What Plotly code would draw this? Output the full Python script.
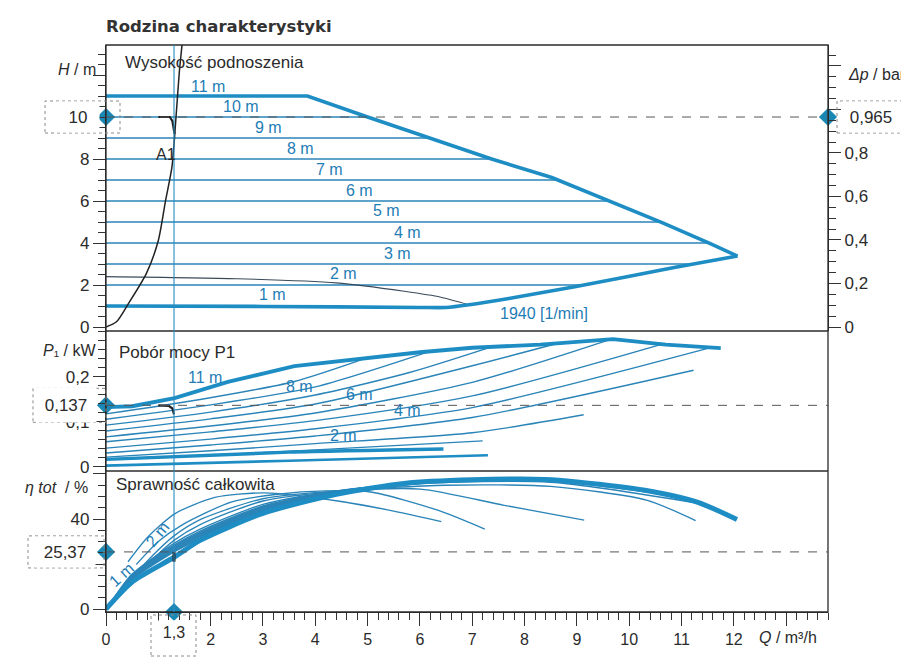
import plotly.graph_objects as go

# ------------------------------------------------------------------ data
# flow axis  Q / m3/h
Q_RANGE = [0, 13.8]
q_ticks = list(range(0, 14))
q_ticktext = ["0", "", "2", "3", "4", "5", "6", "7", "8", "9", "10", "11", "12", ""]

# ---- panel 1 : Wysokość podnoszenia  (H / m)  and  Δp / bar
H_RANGE = [-0.19, 13.43]
DP_PER_M = 0.0965
h_ticks = [0, 2, 4, 6, 8, 10, 12]
h_ticktext = ["0", "2", "4", "6", "8", "", ""]
dp_ticks = [0, 0.2, 0.4, 0.6, 0.8, 1.0, 1.2]
dp_ticktext = ["0", "0,2", "0,4", "0,6", "0,8", "", ""]

q_hmax = [0, 3.85, 5.0, 6.74, 7.37, 8.52, 9.68, 10.64, 11.55, 12.07]
h_hmax = [11.0, 11.0, 10.0, 8.53, 8.0, 7.12, 5.95, 4.96, 3.97, 3.38]
q_hmin = [0, 3.0, 6.0, 6.5, 6.94, 7.7, 8.96, 10.86, 12.07]
h_hmin = [1.0, 0.98, 0.93, 0.93, 1.06, 1.36, 1.92, 2.83, 3.38]
h_levels = [10, 9, 8, 7, 6, 5, 4, 3, 2]
q_level_end = [5.0, 6.19, 7.37, 8.64, 9.63, 10.6, 11.52, 11.23, 9.13]
q_hthin = [0, 2.5, 4.4, 5.7, 6.4, 6.94]
h_hthin = [2.4, 2.3, 2.1, 1.7, 1.42, 1.06]
q_sys = [0, 0.2, 0.42, 0.77, 1.0, 1.14, 1.26, 1.33, 1.40, 1.46]
h_sys = [0, 0.25, 1.08, 2.54, 4.12, 6.04, 7.61, 9.71, 12.1, 13.6]

top_lbl_text = ["11 m", "10 m", "9 m", "8 m", "7 m", "6 m", "5 m", "4 m", "3 m", "2 m", "1 m", "1940 [1/min]"]
top_lbl_q = [1.94, 2.58, 3.10, 3.72, 4.28, 4.85, 5.36, 5.76, 5.58, 4.54, 3.18, 8.38]
top_lbl_h = [11.45, 10.5, 9.5, 8.49, 7.52, 6.5, 5.54, 4.51, 3.5, 2.53, 1.54, 0.62]

# ---- panel 2 : Pobór mocy P1  (P1 / kW)
P_RANGE = [-0.0089, 0.3022]
p_ticks = [0, 0.1, 0.2]
p_ticktext = ["0", "0,1", "0,2"]
q_pmax = [0, 0.5, 1.31, 2.33, 3.6, 5.0, 6.0, 7.0, 8.3, 9.69, 10.7, 11.75]
p_pmax = [0.133, 0.135, 0.153, 0.189, 0.224, 0.243, 0.255, 0.265, 0.272, 0.284, 0.272, 0.264]
p_lines_q = [
    [0, 1.8, 3.6, 5.0],
    [0, 2, 4, 6.19],
    [0, 2, 4, 5.8, 7.37],
    [0, 2, 4, 7, 8.64],
    [0, 2, 4, 7, 9.63],
    [0, 2, 4, 7, 10.6],
    [0, 2, 4, 7, 11.52],
    [0, 2, 4, 7, 11.23],
    [0, 2, 4, 7, 9.13],
    [0, 2, 4, 7.2],
]
p_lines_p = [
    [0.118, 0.150, 0.190, 0.243],
    [0.106, 0.138, 0.178, 0.257],
    [0.093, 0.122, 0.160, 0.210, 0.267],
    [0.080, 0.107, 0.140, 0.225, 0.275],
    [0.067, 0.091, 0.120, 0.188, 0.283],
    [0.056, 0.078, 0.103, 0.158, 0.272],
    [0.042, 0.062, 0.085, 0.132, 0.264],
    [0.031, 0.049, 0.069, 0.110, 0.215],
    [0.022, 0.036, 0.052, 0.076, 0.116],
    [0.017, 0.026, 0.038, 0.058],
]
q_pb1 = [0, 3.5, 6.45]
p_pb1 = [0.017, 0.033, 0.040]
q_pb2 = [0, 3.5, 7.3]
p_pb2 = [0.003, 0.014, 0.026]
mid_lbl_text = ["11 m", "8 m", "6 m", "4 m", "2 m"]
mid_lbl_q = [1.89, 3.69, 4.85, 5.76, 4.53]
mid_lbl_p = [0.199, 0.178, 0.161, 0.126, 0.069]

# ---- panel 3 : Sprawność całkowita  (η tot / %)
ETA_RANGE = [-1.33, 61.33]
eta_ticks = [0, 20, 40, 60]
eta_ticktext = ["0", "", "40", ""]
q_emax = [0, 0.5, 1.3, 1.8, 3.0, 4.4, 5.7, 7.0, 8.4, 9.0, 10.3, 11.3, 12.06]
e_emax = [0, 12, 23, 30.5, 42.5, 51, 55.8, 57.4, 57.6, 56.5, 52.8, 47.5, 39.8]
eta_lines_q = [
    [0, 0.5, 1.3, 1.8, 3.0, 4.4, 5.0],
    [0, 0.5, 1.3, 1.8, 3.0, 4.4, 6.19],
    [0, 0.5, 1.3, 1.8, 3.0, 4.4, 6.0, 7.37],
    [0, 0.5, 1.3, 1.8, 3.0, 4.4, 6.0, 8.64],
    [0.05, 0.5, 1.3, 1.8, 3.0, 4.4, 6.0, 8.0, 9.63],
    [0.1, 0.5, 1.3, 1.8, 3.0, 4.4, 6.0, 8.5, 10.6],
    [0.2, 0.6, 1.3, 1.8, 3.0, 4.4, 6.0, 8.5, 11.52],
    [0.35, 0.8, 1.3, 1.8, 3.0, 4.5, 6.5, 8.5, 10.33, 11.27],
    [0.5, 0.9, 1.3, 1.8, 3.0, 4.5, 6.01, 7.61, 9.14],
    [0.58, 1.0, 1.45, 2.39, 3.28, 4.2, 5.06, 6.34, 7.24],
    [0.42, 0.8, 1.32, 2.08, 3.03, 4.43, 5.5, 6.41],
]
eta_lines_e = [
    [0, 13, 25.4, 31.5, 43.6, 51.3, 53.5],
    [0, 13.5, 26, 32.2, 44, 51.5, 56.3],
    [0, 14, 26.6, 32.8, 44.5, 51.8, 56.2, 57.5],
    [0, 14.5, 27.2, 33.4, 45, 52, 56.2, 57.5],
    [1.5, 15, 27.8, 34, 45.4, 52.2, 56.2, 57.2, 54.8],
    [3, 15.5, 28.4, 34.6, 45.8, 52.3, 56, 56.8, 51.2],
    [5, 17, 29.2, 35.5, 46.5, 52.5, 55.8, 56.3, 46.2],
    [9, 20, 30.5, 37.5, 48, 52.5, 55, 54.5, 48.4, 39.3],
    [14, 24, 32.5, 39.7, 49, 52.5, 53.3, 46.1, 39.5],
    [19.8, 30, 37.3, 47.5, 51, 52.5, 52.0, 43.9, 35.5],
    [21, 32, 42.4, 49.6, 51.6, 48.0, 43.5, 38.8],
]
eta_line_width = [1.8, 1.8, 1.8, 1.8, 1.6, 1.5, 1.4, 1.3, 1.3, 1.3, 1.3]
bot_lbl_text = ["2 m", "1 m"]
bot_lbl_q = [0.98, 0.30]
bot_lbl_e = [33.3, 15.4]
bot_lbl_angle = [-50, -42]

# ---- operating point A1
q_op, h_op, dp_op, p_op, eta_op = 1.3, 10.0, 0.965, 0.137, 25.37
op_text_q, op_text_h, op_text_dp, op_text_p, op_text_eta = "1,3", "10", "0,965", "0,137", "25,37"
hook_top_q = [1.0, 1.22, 1.27, 1.31]
hook_top_h = [10.0, 10.0, 9.8, 9.2]
hook_mid_q = [1.0, 1.2, 1.27, 1.3]
hook_mid_p = [0.137, 0.136, 0.130, 0.117]
hook_bot_q = [1.3, 1.3]
hook_bot_e = [25.4, 21.0]

# ------------------------------------------------------------------ layout helpers
W, H = 909, 657
L, R, T, B = 98, 820, 37, 604
PW, PH = R - L, B - T


def px(xp):
    return (xp - L) / PW


def py(yp):
    return (B - yp) / PH


D0 = py(463)   # bottom / middle divider
D1 = py(323)   # middle / top divider

BLUE = "#1d8dc4"
BLUE_THIN = "#2a84b8"
TXT_BLUE = "#1f7db5"
DARK = "#2b2b2b"
SANS = "Liberation Sans, Arial, Helvetica, sans-serif"

fig = go.Figure()


def line(x, y, ax, color, width, shape="linear"):
    ln = dict(color=color, width=width, shape=shape)
    if shape == "spline":
        ln["smoothing"] = 0.7
    fig.add_trace(go.Scatter(x=x, y=y, xaxis="x", yaxis=ax, mode="lines",
                             line=ln, hoverinfo="skip"))


# ---- panel 1
for hl, qe in zip(h_levels, q_level_end):
    line([0, qe], [hl, hl], "y", BLUE_THIN, 1.4)
line(q_hthin, h_hthin, "y", "#3b4a5a", 1.1, "spline")
line(q_hmax, h_hmax, "y", BLUE, 3.6)
line(q_hmin, h_hmin, "y", BLUE, 3.6, "spline")
line(q_sys, h_sys, "y", "#222222", 1.5, "spline")
line(hook_top_q, hook_top_h, "y", "#222222", 2.2)

# ---- panel 2
for qs, ps in zip(p_lines_q, p_lines_p):
    line(qs, ps, "y2", BLUE_THIN, 1.4, "spline")
line(q_pb1, p_pb1, "y2", BLUE, 3.4, "spline")
line(q_pb2, p_pb2, "y2", BLUE, 2.6, "spline")
line(q_pmax, p_pmax, "y2", BLUE, 3.8)
line(hook_mid_q, hook_mid_p, "y2", "#222222", 2.2)

# ---- panel 3
for qs, es, lw in zip(eta_lines_q, eta_lines_e, eta_line_width):
    line(qs, es, "y3", BLUE_THIN, lw, "spline")
line(q_emax, e_emax, "y3", BLUE, 5, "spline")
line(hook_bot_q, hook_bot_e, "y3", "#222222", 3)

# ---- operating point diamonds
dia = dict(symbol="diamond", size=14, color="#1b87b5")
for xs, ys, ax in [([0], [h_op], "y"), ([0], [p_op], "y2"), ([0], [eta_op], "y3"),
                   ([q_op], [ETA_RANGE[0]], "y3"), ([Q_RANGE[1]], [dp_op], "y4")]:
    fig.add_trace(go.Scatter(x=xs, y=ys, xaxis="x", yaxis=ax, mode="markers",
                             marker=dia, cliponaxis=False, hoverinfo="skip"))

# ------------------------------------------------------------------ shapes
shapes = [
    dict(type="rect", xref="paper", yref="paper", x0=0, x1=1, y0=0, y1=1,
         line=dict(color=DARK, width=1.3), layer="above"),
    dict(type="line", xref="paper", yref="paper", x0=0, x1=1, y0=D0, y1=D0,
         line=dict(color=DARK, width=1.3), layer="above"),
    dict(type="line", xref="paper", yref="paper", x0=0, x1=1, y0=D1, y1=D1,
         line=dict(color=DARK, width=1.3), layer="above"),
    dict(type="line", xref="paper", yref="y", x0=0, x1=1, y0=h_op, y1=h_op,
         line=dict(color="#555555", width=1, dash="dash"), layer="above"),
    dict(type="line", xref="paper", yref="y2", x0=0, x1=1, y0=p_op, y1=p_op,
         line=dict(color="#555555", width=1, dash="dash"), layer="above"),
    dict(type="line", xref="paper", yref="y3", x0=0, x1=1, y0=eta_op, y1=eta_op,
         line=dict(color="#555555", width=1, dash="dash"), layer="above"),
    dict(type="line", xref="x", yref="paper", x0=q_op, x1=q_op, y0=0, y1=1,
         line=dict(color="#2a8cc0", width=1.1), layer="above"),
]

box_line = dict(color="#8a8a8a", width=1, dash="dot")


def box_y(yref, yval, x0, x1, y0=-16, y1=16, xanchor=0):
    shapes.append(dict(type="rect", xref="paper", xsizemode="pixel", xanchor=xanchor,
                       x0=x0, x1=x1, yref=yref, ysizemode="pixel", yanchor=yval,
                       y0=y0, y1=y1, line=box_line, layer="above"))


box_y("y", h_op, -61, 14)
box_y("y4", dp_op, 9, 77, xanchor=1)
box_y("y2", p_op, -73, 0, -17, 17)
box_y("y3", eta_op, -78, -2)
shapes.append(dict(type="rect", xref="x", xsizemode="pixel", xanchor=q_op, x0=-23, x1=22,
                   yref="paper", ysizemode="pixel", yanchor=0, y0=-44, y1=-3,
                   line=box_line, layer="above"))

# ------------------------------------------------------------------ annotations
ann = []


def text_px(t, xp, yp, size=17, color=DARK, xanchor="left", family=SANS):
    ann.append(dict(text=t, xref="paper", yref="paper", x=px(xp), y=py(yp),
                    xanchor=xanchor, yanchor="middle", showarrow=False,
                    font=dict(size=size, color=color, family=family)))


text_px("<b>Rodzina charakterystyki</b>", 96, 19, size=16.5, color="#333333",
        family="DejaVu Sans, Verdana, sans-serif")
text_px("Wysokość podnoszenia", 115, 54, size=17)
text_px("Pobór mocy P1", 109, 344, size=17)
text_px("Sprawność całkowita", 106, 476, size=17)
text_px("<i>H</i> / m", 90, 61, size=16, xanchor="right")
text_px("<i>Δp</i> / bar", 838, 66, size=16)
text_px("<i>P</i>₁ / kW", 90, 342, size=16, xanchor="right")
text_px("<i>η tot</i>  / %", 82, 479, size=16, xanchor="right")
text_px("<i>Q</i> / m³/h", 749, 630, size=16)

# callout texts (white background inside the dotted boxes)
for t, xr, xv, yr, yv, xs, w, h in [
    (op_text_h, "paper", 0, "y", h_op, -28, 40, 28),
    (op_text_dp, "paper", 1, "y4", dp_op, 43, 56, 28),
    (op_text_p, "paper", 0, "y2", p_op, -40, 58, 32),
    (op_text_eta, "paper", 0, "y3", eta_op, -41, 58, 28),
]:
    ann.append(dict(text=t, xref=xr, x=xv, yref=yr, y=yv, xshift=xs, showarrow=False,
                    width=w, height=h, bgcolor="white", xanchor="center", yanchor="middle",
                    font=dict(size=17, color=DARK, family=SANS)))
ann.append(dict(text=op_text_q, xref="x", x=q_op, yref="paper", y=0, yshift=-20,
                showarrow=False, width=34, height=20, bgcolor="white",
                xanchor="center", yanchor="middle",
                font=dict(size=16, color=DARK, family=SANS)))

ann.append(dict(text="A1", xref="x", yref="y", x=1.15, y=8.2, showarrow=False,
                font=dict(size=16, color=DARK, family=SANS)))

for t, q, h in zip(top_lbl_text, top_lbl_q, top_lbl_h):
    ann.append(dict(text=t, xref="x", yref="y", x=q, y=h, showarrow=False,
                    font=dict(size=16, color=TXT_BLUE, family=SANS)))
for t, q, p in zip(mid_lbl_text, mid_lbl_q, mid_lbl_p):
    ann.append(dict(text=t, xref="x", yref="y2", x=q, y=p, showarrow=False,
                    font=dict(size=16, color=TXT_BLUE, family=SANS)))
for t, q, e, a in zip(bot_lbl_text, bot_lbl_q, bot_lbl_e, bot_lbl_angle):
    ann.append(dict(text=t, xref="x", yref="y3", x=q, y=e, showarrow=False, textangle=a,
                    font=dict(size=16, color=TXT_BLUE, family=SANS)))

# ------------------------------------------------------------------ axes
def yax(domain, rng, tv, tt, minor_dtick, side="left"):
    return dict(domain=domain, range=rng, anchor="x", side=side,
                tickmode="array", tickvals=tv, ticktext=tt,
                ticks="outside", ticklen=12, tickwidth=1.2, tickcolor="#333",
                minor=dict(tickmode="linear", tick0=0, dtick=minor_dtick, ticks="outside",
                           ticklen=7, tickwidth=1, tickcolor="#333", showgrid=False),
                showline=True, linecolor=DARK, linewidth=1.3,
                showgrid=False, zeroline=False, fixedrange=True,
                tickfont=dict(size=17, color=DARK, family=SANS))


fig.update_layout(
    width=W, height=H,
    margin=dict(l=L, r=W - R, t=T, b=H - B, pad=0),
    paper_bgcolor="white", plot_bgcolor="white", showlegend=False,
    font=dict(family=SANS, size=16, color=DARK),
    xaxis=dict(domain=[0, 1], range=Q_RANGE, anchor="y3",
               tickmode="array", tickvals=q_ticks, ticktext=q_ticktext,
               ticks="outside", ticklen=13, tickwidth=1.2, tickcolor="#333",
               minor=dict(tickmode="linear", tick0=0, dtick=0.2, ticks="outside",
                          ticklen=7, tickwidth=1, tickcolor="#333", showgrid=False),
               showline=True, linecolor=DARK, linewidth=1.3,
               showgrid=False, zeroline=False, fixedrange=True,
               tickfont=dict(size=16, color=DARK, family=SANS)),
    yaxis=yax([D1, 1], H_RANGE, h_ticks, h_ticktext, 0.5),
    yaxis2=yax([D0, D1], P_RANGE, p_ticks, p_ticktext, 0.02),
    yaxis3=yax([0, D0], ETA_RANGE, eta_ticks, eta_ticktext, 5),
    yaxis4=dict(overlaying="y", side="right", anchor="x",
                range=[H_RANGE[0] * DP_PER_M, H_RANGE[1] * DP_PER_M],
                tickmode="array", tickvals=dp_ticks, ticktext=dp_ticktext,
                ticks="outside", ticklen=12, tickwidth=1.2, tickcolor="#333",
                minor=dict(tickmode="linear", tick0=0, dtick=0.05, ticks="outside",
                           ticklen=7, tickwidth=1, tickcolor="#333", showgrid=False),
                showline=True, linecolor=DARK, linewidth=1.3,
                showgrid=False, zeroline=False, fixedrange=True,
                tickfont=dict(size=17, color=DARK, family=SANS)),
    shapes=shapes,
    annotations=ann,
)

fig.write_html("out.html")
